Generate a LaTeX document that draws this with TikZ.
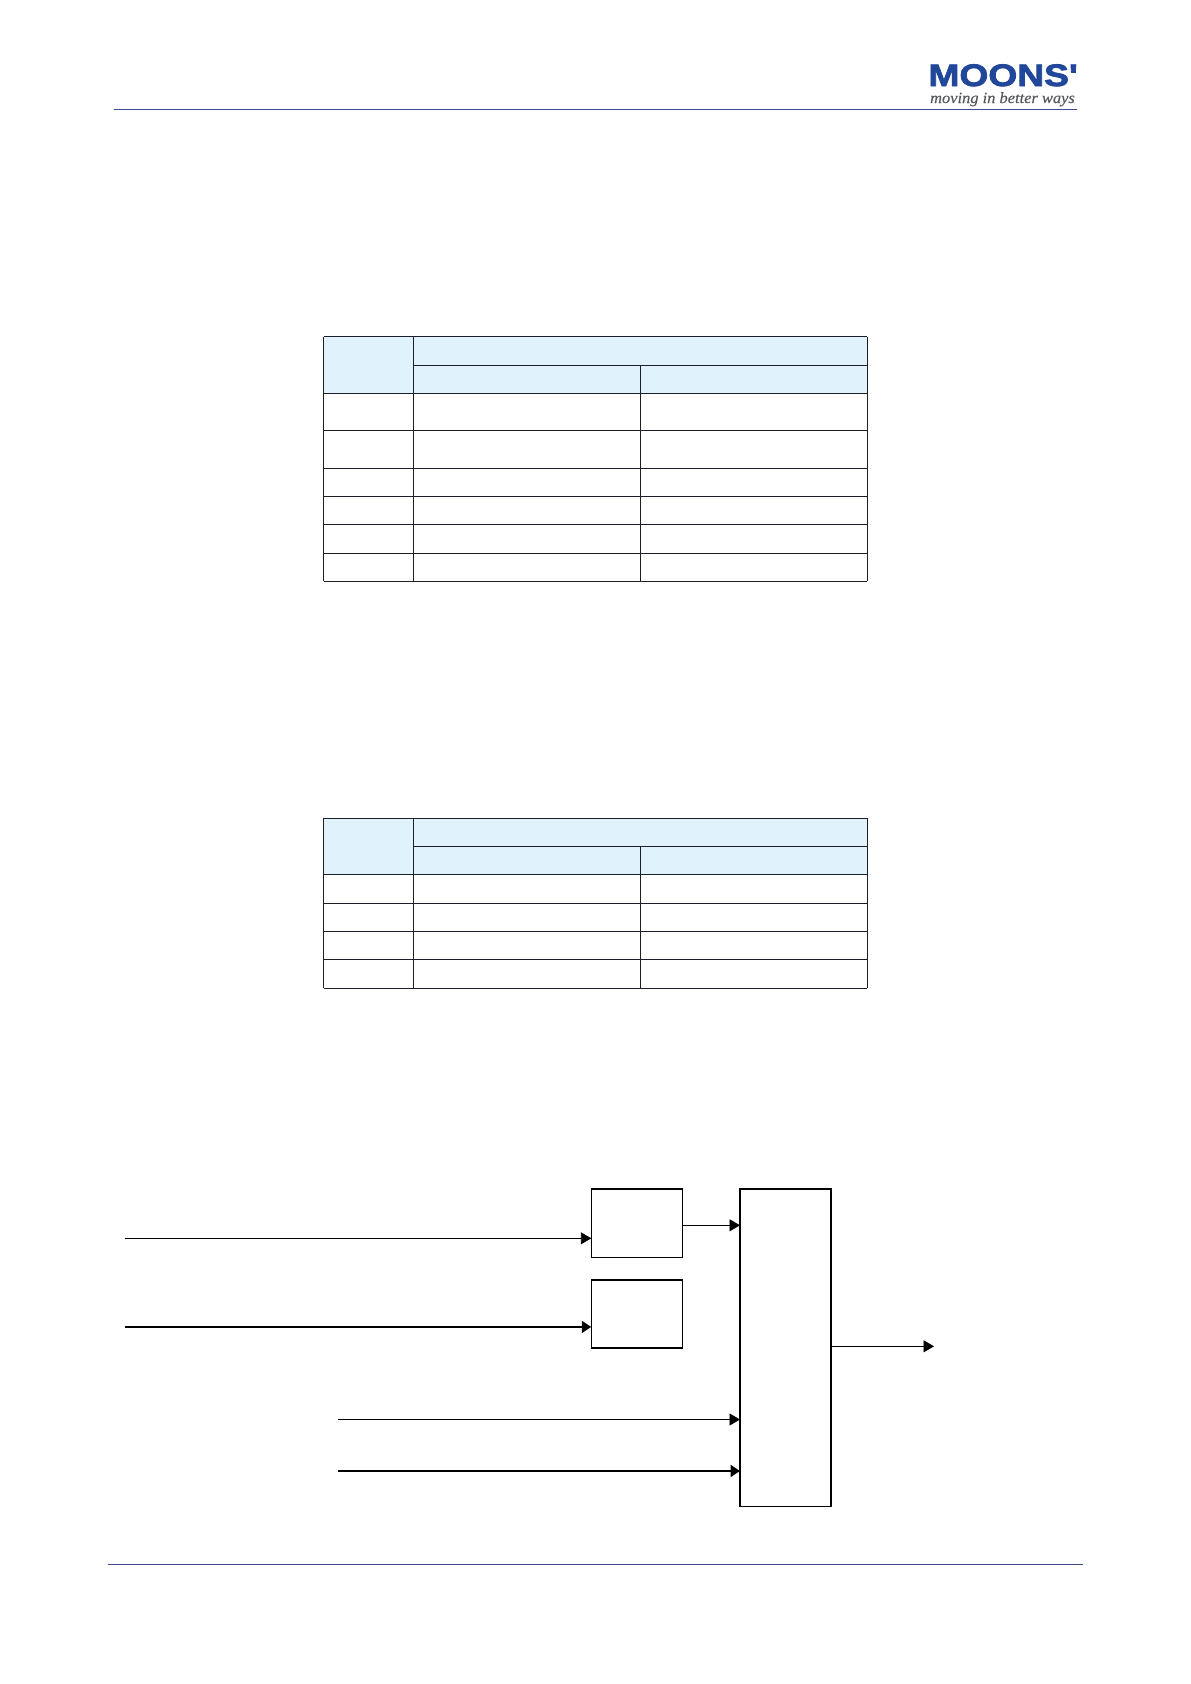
\documentclass[tikz,border=0pt]{standalone}
\usepackage{fontspec}
\usetikzlibrary{arrows.meta,calc}
\setmainfont{Liberation Sans}
\newfontfamily\logofont[FakeStretch=1.2,FakeBold=2.6]{Liberation Sans Bold}
\newfontfamily\tagfont[FakeStretch=1.06,FakeBold=0.3]{Liberation Serif Italic}
\definecolor{rulecol}{HTML}{3A4A8C}
\definecolor{logoblue}{HTML}{20479A}
\definecolor{taggray}{HTML}{55585C}
\definecolor{headfill}{HTML}{E0F3FC}
\definecolor{gridcol}{HTML}{1A1F2A}
\tikzset{
  pagerule/.style={draw=rulecol,line width=0.9pt},
  gridline/.style={draw=gridcol,line width=0.85pt},
  headcell/.style={fill=headfill,draw=none},
  blockbox/.style={draw=black,line width=0.9pt,minimum width=91.5pt,minimum height=68.6pt,inner sep=0pt,outer sep=0pt},
  bigbox/.style={draw=black,line width=0.9pt,minimum width=91pt,minimum height=317.8pt,inner sep=0pt,outer sep=0pt},
  heavyedge/.style={draw=black,line width=1.7pt},
  signal/.style={draw=black,line width=0.9pt,-{Triangle[length=10.5pt,width=12pt]}},
  signalheavy/.style={draw=black,line width=2pt,-{Triangle[length=9.5pt,width=12pt]}},
}
\begin{document}
\begin{tikzpicture}[x=1pt,y=-1pt]
\useasboundingbox (0,0) rectangle (1191,1684);
\fill[white] (0,0) rectangle (1191,1684);
% header and footer
\coordinate (hl) at (113.5,109.5); \coordinate (hr) at (1077,109.5);
\coordinate (fl) at (107.5,1564.3); \coordinate (fr) at (1083,1564.3);
\draw[pagerule] (hl) -- (hr);
\draw[pagerule] (fl) -- (fr);
\node[anchor=base east,inner sep=0pt,text=logoblue,font=\logofont\fontsize{31}{31}\selectfont] (logo) at (1078,86) {MOONS'};
\node[anchor=base east,inner sep=0pt,text=taggray,font=\tagfont\fontsize{15.5}{15.5}\selectfont] (tag) at (1075,103) {moving in better ways};
% table 1
\fill[headcell] (323.5,336.7) rectangle (867,365.3);
\fill[headcell] (323.5,336.7) rectangle (413.3,393.3);
\fill[headcell] (413.3,365.3) rectangle (867,393.3);
\foreach \yy in {393.3,430.7,468,496,524.6,553,581.3}
  \draw[gridline] (323.5,\yy) -- (867,\yy);
\draw[gridline] (323.5,336.7) -- (867,336.7);
\draw[gridline] (413.3,365.3) -- (867,365.3);
\foreach \xx in {323.5,413.3,867}
  \draw[gridline] (\xx,336.7) -- (\xx,581.3);
\draw[gridline] (640.5,365.3) -- (640.5,581.3);
% table 2
\fill[headcell] (323.5,818.4) rectangle (867,846);
\fill[headcell] (323.5,818.4) rectangle (413.3,874.5);
\fill[headcell] (413.3,846) rectangle (867,874.5);
\foreach \yy in {874.5,903,931,959.2,988}
  \draw[gridline] (323.5,\yy) -- (867,\yy);
\draw[gridline] (323.5,818.4) -- (867,818.4);
\draw[gridline] (413.3,846) -- (867,846);
\foreach \xx in {323.5,413.3,867}
  \draw[gridline] (\xx,818.4) -- (\xx,988);
\draw[gridline] (640.5,846) -- (640.5,988);
% block diagram
\node[blockbox,anchor=north west] (b1) at (591.3,1189) {};
\node[blockbox,anchor=north west] (b2) at (591.3,1279.7) {};
\node[bigbox,anchor=north west] (big) at (740,1189) {};
\draw[heavyedge] (b1.north west) -- (b1.north east);
\draw[heavyedge] (b2.north west) -- (b2.north east);
\draw[heavyedge] (b2.south west) -- (b2.south east);
\draw[heavyedge,line join=miter] (big.south west) -- (big.north west) -- (big.north east) -- (big.south east);
\coordinate (in1) at (124.6,1238.3);
\coordinate (in2) at (124.6,1326.9);
\coordinate (in3) at (338,1419.5);
\coordinate (in4) at (338,1471);
\coordinate (out) at (934,1346.3);
\draw[signal] (in1) -- (in1 -| b1.west);
\draw[signalheavy] (in2) -- (in2 -| b2.west);
\draw[signal] (b1.east |- 0,1225.3) -- (big.west |- 0,1225.3);
\draw[signal] (in3) -- (in3 -| big.west);
\draw[signalheavy] (in4) -- (in4 -| big.west);
\draw[signal] (big.east |- out) -- (out);
\end{tikzpicture}
\end{document}
